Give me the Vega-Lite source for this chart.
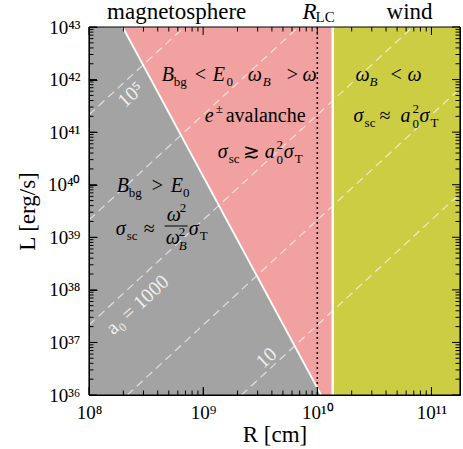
{
  "$schema": "https://vega.github.io/schema/vega-lite/v6.json",
  "width": 371,
  "height": 368,
  "autosize": {"type": "none"},
  "padding": {"left": 89, "top": 27, "right": 3, "bottom": 54},
  "background": "white",
  "config": {"view": {"stroke": "black", "strokeWidth": 1}},
  "datasets": {
    "regions": [
      {"zone": "magnetosphere", "R": 1e8, "R2": 1.365e10},
      {"zone": "wind", "R": 1.365e10, "R2": 1.778e11}
    ],
    "grey": [
      {"R": 1e8, "L": 1e43, "L0": 1e36},
      {"R": 1.97e8, "L": 1e43, "L0": 1e36},
      {"R": 1.08e10, "L": 1e36, "L0": 1e36}
    ],
    "a0lines": [
      {"a0": 10, "R": 2.163e9, "L": 1e36},
      {"a0": 10, "R": 1.778e11, "L": 6.76e39},
      {"a0": 100, "R": 2.163e8, "L": 1e36},
      {"a0": 100, "R": 1.778e11, "L": 6.76e41},
      {"a0": 1000, "R": 1e8, "L": 2.14e37},
      {"a0": 1000, "R": 6.84e10, "L": 1e43},
      {"a0": 10000, "R": 1e8, "L": 2.14e39},
      {"a0": 10000, "R": 6.84e9, "L": 1e43},
      {"a0": 100000, "R": 1e8, "L": 2.14e41},
      {"a0": 100000, "R": 6.84e8, "L": 1e43}
    ],
    "edge": [
      {"R": 1.97e8, "L": 1e43},
      {"R": 1.08e10, "L": 1e36}
    ],
    "rlc": [{"R": 1e10}],
    "sep": [{"R": 1.365e10}],
    "it": [
      {"R": 4.331e8, "L": 9.393e41, "t": "B"},
      {"R": 1.211e9, "L": 9.393e41, "t": "E"},
      {"R": 2.453e9, "L": 9.393e41, "t": "ω"},
      {"R": 7.433e9, "L": 9.393e41, "t": "ω"},
      {"R": 1.031e9, "L": 1.559e41, "t": "e"},
      {"R": 1.340e9, "L": 3.222e40, "t": "σ"},
      {"R": 3.456e9, "L": 3.222e40, "t": "a"},
      {"R": 5.070e9, "L": 3.222e40, "t": "σ"},
      {"R": 2.165e10, "L": 9.393e41, "t": "ω"},
      {"R": 6.177e10, "L": 9.393e41, "t": "ω"},
      {"R": 2.079e10, "L": 1.559e41, "t": "σ"},
      {"R": 5.363e10, "L": 1.559e41, "t": "a"},
      {"R": 7.867e10, "L": 1.559e41, "t": "σ"},
      {"R": 1.748e8, "L": 7.265e39, "t": "B"},
      {"R": 5.192e8, "L": 7.265e39, "t": "E"},
      {"R": 1.713e8, "L": 1.105e39, "t": "σ"},
      {"R": 4.790e8, "L": 2.040e39, "t": "ω"},
      {"R": 4.694e8, "L": 7.450e38, "t": "ω"},
      {"R": 7.464e8, "L": 1.105e39, "t": "σ"}
    ],
    "rm": [
      {"R": 8.426e8, "L": 9.393e41, "t": "<"},
      {"R": 5.385e9, "L": 9.393e41, "t": ">"},
      {"R": 1.574e9, "L": 1.559e41, "t": "avalanche"},
      {"R": 2.218e9, "L": 3.222e40, "t": "≳"},
      {"R": 4.385e10, "L": 9.393e41, "t": "<"},
      {"R": 3.512e10, "L": 1.559e41, "t": "≈"},
      {"R": 3.540e8, "L": 7.265e39, "t": ">"},
      {"R": 3.013e8, "L": 1.105e39, "t": "≈"}
    ],
    "sub": [
      {"R": 5.516e8, "L": 7.547e41, "t": "bg"},
      {"R": 1.598e9, "L": 7.547e41, "t": "0"},
      {"R": 1.287e9, "L": 2.313e41, "t": "±"},
      {"R": 1.672e9, "L": 2.588e40, "t": "sc"},
      {"R": 4.401e9, "L": 4.778e40, "t": "2"},
      {"R": 4.401e9, "L": 2.477e40, "t": "0"},
      {"R": 6.328e9, "L": 2.588e40, "t": "T"},
      {"R": 2.595e10, "L": 1.252e41, "t": "sc"},
      {"R": 6.831e10, "L": 2.313e41, "t": "2"},
      {"R": 6.831e10, "L": 1.199e41, "t": "0"},
      {"R": 9.820e10, "L": 1.252e41, "t": "T"},
      {"R": 2.227e8, "L": 5.837e39, "t": "bg"},
      {"R": 6.650e8, "L": 5.837e39, "t": "0"},
      {"R": 2.139e8, "L": 8.879e38, "t": "sc"},
      {"R": 6.226e8, "L": 3.026e39, "t": "2"},
      {"R": 6.103e8, "L": 1.057e39, "t": "2"},
      {"R": 9.320e8, "L": 8.879e38, "t": "T"}
    ],
    "subit": [
      {"R": 3.319e9, "L": 7.547e41, "t": "B"},
      {"R": 2.871e10, "L": 7.547e41, "t": "B"},
      {"R": 6.103e8, "L": 5.728e38, "t": "B"}
    ],
    "frac": [{"R": 4.600e8, "R2": 7.316e8, "L": 1.639e39}],
    "top": [
      {"R": 5.861e8, "L": 1.419e43, "t": "magnetosphere"},
      {"R": 6.431e10, "L": 1.419e43, "t": "wind"}
    ],
    "topit": [{"R": 7.433e9, "L": 1.419e43, "t": "R"}],
    "topsub": [{"R": 9.663e9, "L": 1.245e43, "t": "LC"}],
    "rot": [
      {"R": 2.33e8, "L": 5.08e41, "t": "10⁵"},
      {"R": 2.67e8, "L": 5.15e37, "t": "a₀ = 1000"},
      {"R": 3.6e9, "L": 5.06e36, "t": "10"}
    ],
    "framex": [{"R": 1e8}, {"R": 1.778e11}],
    "framey": [{"L": 1e36}, {"L": 1e43}],
    "xmaj": [{"R": 1e8}, {"R": 1e9}, {"R": 1e10}, {"R": 1e11}],
    "xmin": [{"R": 2e8}, {"R": 3e8}, {"R": 4e8}, {"R": 5e8}, {"R": 6e8}, {"R": 7e8}, {"R": 8e8}, {"R": 9e8}, {"R": 2e9}, {"R": 3e9}, {"R": 4e9}, {"R": 5e9}, {"R": 6e9}, {"R": 7e9}, {"R": 8e9}, {"R": 9e9}, {"R": 2e10}, {"R": 3e10}, {"R": 4e10}, {"R": 5e10}, {"R": 6e10}, {"R": 7e10}, {"R": 8e10}, {"R": 9e10}],
    "ymaj": [{"L": 1e36}, {"L": 1e37}, {"L": 1e38}, {"L": 1e39}, {"L": 1e40}, {"L": 1e41}, {"L": 1e42}, {"L": 1e43}],
    "ymin": [{"L": 2e36}, {"L": 3e36}, {"L": 4e36}, {"L": 5e36}, {"L": 6e36}, {"L": 7e36}, {"L": 8e36}, {"L": 9e36}, {"L": 2e37}, {"L": 3e37}, {"L": 4e37}, {"L": 5e37}, {"L": 6e37}, {"L": 7e37}, {"L": 8e37}, {"L": 9e37}, {"L": 2e38}, {"L": 3e38}, {"L": 4e38}, {"L": 5e38}, {"L": 6e38}, {"L": 7e38}, {"L": 8e38}, {"L": 9e38}, {"L": 2e39}, {"L": 3e39}, {"L": 4e39}, {"L": 5e39}, {"L": 6e39}, {"L": 7e39}, {"L": 8e39}, {"L": 9e39}, {"L": 2e40}, {"L": 3e40}, {"L": 4e40}, {"L": 5e40}, {"L": 6e40}, {"L": 7e40}, {"L": 8e40}, {"L": 9e40}, {"L": 2e41}, {"L": 3e41}, {"L": 4e41}, {"L": 5e41}, {"L": 6e41}, {"L": 7e41}, {"L": 8e41}, {"L": 9e41}, {"L": 2e42}, {"L": 3e42}, {"L": 4e42}, {"L": 5e42}, {"L": 6e42}, {"L": 7e42}, {"L": 8e42}, {"L": 9e42}]
  },
  "layer": [
    {
      "data": {"name": "regions"},
      "mark": {"type": "rect"},
      "encoding": {
        "x": {"field": "R", "type": "quantitative", "scale": {"type": "log", "domain": [1e8, 1.778e11], "nice": false}, "axis": null},
        "x2": {"field": "R2"},
        "color": {"field": "zone", "type": "nominal", "scale": {"domain": ["magnetosphere", "wind"], "range": ["#f1a19f", "#cdcd43"]}, "legend": null}
      }
    },
    {
      "data": {"name": "grey"},
      "mark": {"type": "area", "color": "#a3a3a3"},
      "encoding": {
        "x": {"field": "R", "type": "quantitative", "scale": {"type": "log", "domain": [1e8, 1.778e11], "nice": false}, "axis": null},
        "y": {"field": "L", "type": "quantitative", "scale": {"type": "log", "domain": [1e36, 1e43], "nice": false}, "axis": null},
        "y2": {"field": "L0"}
      }
    },
    {
      "data": {"name": "a0lines"},
      "mark": {"type": "line", "color": "white", "opacity": 0.65, "strokeWidth": 1.2, "strokeDash": [8, 5]},
      "encoding": {
        "x": {"field": "R", "type": "quantitative", "scale": {"type": "log", "domain": [1e8, 1.778e11], "nice": false}, "axis": null},
        "y": {"field": "L", "type": "quantitative", "scale": {"type": "log", "domain": [1e36, 1e43], "nice": false}, "axis": null},
        "detail": {"field": "a0", "type": "nominal"}
      }
    },
    {
      "data": {"name": "edge"},
      "mark": {"type": "line", "color": "white", "strokeWidth": 1.8},
      "encoding": {
        "x": {"field": "R", "type": "quantitative", "scale": {"type": "log", "domain": [1e8, 1.778e11], "nice": false}, "axis": null},
        "y": {"field": "L", "type": "quantitative", "scale": {"type": "log", "domain": [1e36, 1e43], "nice": false}, "axis": null}
      }
    },
    {
      "data": {"name": "rlc"},
      "mark": {"type": "rule", "color": "black", "strokeWidth": 1.5, "strokeDash": [2, 3]},
      "encoding": {
        "x": {"field": "R", "type": "quantitative", "scale": {"type": "log", "domain": [1e8, 1.778e11], "nice": false}, "axis": null}
      }
    },
    {
      "data": {"name": "sep"},
      "mark": {"type": "rule", "color": "white", "strokeWidth": 2.5},
      "encoding": {
        "x": {"field": "R", "type": "quantitative", "scale": {"type": "log", "domain": [1e8, 1.778e11], "nice": false}, "axis": null}
      }
    },
    {
      "data": {"name": "framex"},
      "mark": {"type": "rule", "color": "black", "strokeWidth": 1.2, "clip": false},
      "encoding": {
        "x": {"field": "R", "type": "quantitative", "scale": {"type": "log", "domain": [1e8, 1.778e11], "nice": false}, "axis": null}
      }
    },
    {
      "data": {"name": "framey"},
      "mark": {"type": "rule", "color": "black", "strokeWidth": 1.2, "clip": false},
      "encoding": {
        "y": {"field": "L", "type": "quantitative", "scale": {"type": "log", "domain": [1e36, 1e43], "nice": false}, "axis": null}
      }
    },
    {
      "data": {"name": "xmaj"},
      "mark": {"type": "tick", "orient": "vertical", "size": 8, "thickness": 1, "yOffset": -4, "color": "black", "opacity": 1},
      "encoding": {
        "x": {"field": "R", "type": "quantitative", "scale": {"type": "log", "domain": [1e8, 1.778e11], "nice": false}, "axis": null},
        "y": {"datum": 1e36, "type": "quantitative", "scale": {"type": "log", "domain": [1e36, 1e43], "nice": false}, "axis": null}
      }
    },
    {
      "data": {"name": "xmin"},
      "mark": {"type": "tick", "orient": "vertical", "size": 4.5, "thickness": 1, "yOffset": -2.25, "color": "black", "opacity": 1},
      "encoding": {
        "x": {"field": "R", "type": "quantitative", "scale": {"type": "log", "domain": [1e8, 1.778e11], "nice": false}, "axis": null},
        "y": {"datum": 1e36, "type": "quantitative", "scale": {"type": "log", "domain": [1e36, 1e43], "nice": false}, "axis": null}
      }
    },
    {
      "data": {"name": "xmaj"},
      "mark": {"type": "tick", "orient": "vertical", "size": 8, "thickness": 1, "yOffset": 4, "color": "black", "opacity": 1},
      "encoding": {
        "x": {"field": "R", "type": "quantitative", "scale": {"type": "log", "domain": [1e8, 1.778e11], "nice": false}, "axis": null},
        "y": {"datum": 1e43, "type": "quantitative", "scale": {"type": "log", "domain": [1e36, 1e43], "nice": false}, "axis": null}
      }
    },
    {
      "data": {"name": "xmin"},
      "mark": {"type": "tick", "orient": "vertical", "size": 4.5, "thickness": 1, "yOffset": 2.25, "color": "black", "opacity": 1},
      "encoding": {
        "x": {"field": "R", "type": "quantitative", "scale": {"type": "log", "domain": [1e8, 1.778e11], "nice": false}, "axis": null},
        "y": {"datum": 1e43, "type": "quantitative", "scale": {"type": "log", "domain": [1e36, 1e43], "nice": false}, "axis": null}
      }
    },
    {
      "data": {"name": "ymaj"},
      "mark": {"type": "tick", "orient": "horizontal", "size": 8, "thickness": 1, "xOffset": 4, "color": "black", "opacity": 1},
      "encoding": {
        "y": {"field": "L", "type": "quantitative", "scale": {"type": "log", "domain": [1e36, 1e43], "nice": false}, "axis": null},
        "x": {"datum": 1e8, "type": "quantitative", "scale": {"type": "log", "domain": [1e8, 1.778e11], "nice": false}, "axis": null}
      }
    },
    {
      "data": {"name": "ymin"},
      "mark": {"type": "tick", "orient": "horizontal", "size": 4.5, "thickness": 1, "xOffset": 2.25, "color": "black", "opacity": 1},
      "encoding": {
        "y": {"field": "L", "type": "quantitative", "scale": {"type": "log", "domain": [1e36, 1e43], "nice": false}, "axis": null},
        "x": {"datum": 1e8, "type": "quantitative", "scale": {"type": "log", "domain": [1e8, 1.778e11], "nice": false}, "axis": null}
      }
    },
    {
      "data": {"name": "ymaj"},
      "mark": {"type": "tick", "orient": "horizontal", "size": 8, "thickness": 1, "xOffset": -4, "color": "black", "opacity": 1},
      "encoding": {
        "y": {"field": "L", "type": "quantitative", "scale": {"type": "log", "domain": [1e36, 1e43], "nice": false}, "axis": null},
        "x": {"datum": 1.778e11, "type": "quantitative", "scale": {"type": "log", "domain": [1e8, 1.778e11], "nice": false}, "axis": null}
      }
    },
    {
      "data": {"name": "ymin"},
      "mark": {"type": "tick", "orient": "horizontal", "size": 4.5, "thickness": 1, "xOffset": -2.25, "color": "black", "opacity": 1},
      "encoding": {
        "y": {"field": "L", "type": "quantitative", "scale": {"type": "log", "domain": [1e36, 1e43], "nice": false}, "axis": null},
        "x": {"datum": 1.778e11, "type": "quantitative", "scale": {"type": "log", "domain": [1e8, 1.778e11], "nice": false}, "axis": null}
      }
    },
    {
      "data": {"name": "it"},
      "mark": {"type": "text", "font": "Liberation Serif", "fontStyle": "italic", "fontSize": 20, "align": "left", "baseline": "alphabetic", "color": "black"},
      "encoding": {
        "x": {"field": "R", "type": "quantitative", "scale": {"type": "log", "domain": [1e8, 1.778e11], "nice": false}, "axis": null},
        "y": {"field": "L", "type": "quantitative", "scale": {"type": "log", "domain": [1e36, 1e43], "nice": false}, "axis": null},
        "text": {"field": "t"}
      }
    },
    {
      "data": {"name": "rm"},
      "mark": {"type": "text", "font": "Liberation Serif", "fontSize": 20, "align": "left", "baseline": "alphabetic", "color": "black"},
      "encoding": {
        "x": {"field": "R", "type": "quantitative", "scale": {"type": "log", "domain": [1e8, 1.778e11], "nice": false}, "axis": null},
        "y": {"field": "L", "type": "quantitative", "scale": {"type": "log", "domain": [1e36, 1e43], "nice": false}, "axis": null},
        "text": {"field": "t"}
      }
    },
    {
      "data": {"name": "sub"},
      "mark": {"type": "text", "font": "Liberation Serif", "fontSize": 13, "align": "left", "baseline": "alphabetic", "color": "black"},
      "encoding": {
        "x": {"field": "R", "type": "quantitative", "scale": {"type": "log", "domain": [1e8, 1.778e11], "nice": false}, "axis": null},
        "y": {"field": "L", "type": "quantitative", "scale": {"type": "log", "domain": [1e36, 1e43], "nice": false}, "axis": null},
        "text": {"field": "t"}
      }
    },
    {
      "data": {"name": "subit"},
      "mark": {"type": "text", "font": "Liberation Serif", "fontStyle": "italic", "fontSize": 13, "align": "left", "baseline": "alphabetic", "color": "black"},
      "encoding": {
        "x": {"field": "R", "type": "quantitative", "scale": {"type": "log", "domain": [1e8, 1.778e11], "nice": false}, "axis": null},
        "y": {"field": "L", "type": "quantitative", "scale": {"type": "log", "domain": [1e36, 1e43], "nice": false}, "axis": null},
        "text": {"field": "t"}
      }
    },
    {
      "data": {"name": "frac"},
      "mark": {"type": "rule", "color": "black", "strokeWidth": 1},
      "encoding": {
        "x": {"field": "R", "type": "quantitative", "scale": {"type": "log", "domain": [1e8, 1.778e11], "nice": false}, "axis": null},
        "x2": {"field": "R2"},
        "y": {"field": "L", "type": "quantitative", "scale": {"type": "log", "domain": [1e36, 1e43], "nice": false}, "axis": null}
      }
    },
    {
      "data": {"name": "top"},
      "mark": {"type": "text", "font": "Liberation Serif", "fontSize": 23, "align": "center", "baseline": "alphabetic", "color": "black"},
      "encoding": {
        "x": {"field": "R", "type": "quantitative", "scale": {"type": "log", "domain": [1e8, 1.778e11], "nice": false}, "axis": null},
        "y": {"field": "L", "type": "quantitative", "scale": {"type": "log", "domain": [1e36, 1e43], "nice": false}, "axis": null},
        "text": {"field": "t"}
      }
    },
    {
      "data": {"name": "topit"},
      "mark": {"type": "text", "font": "Liberation Serif", "fontStyle": "italic", "fontSize": 23, "align": "left", "baseline": "alphabetic", "color": "black"},
      "encoding": {
        "x": {"field": "R", "type": "quantitative", "scale": {"type": "log", "domain": [1e8, 1.778e11], "nice": false}, "axis": null},
        "y": {"field": "L", "type": "quantitative", "scale": {"type": "log", "domain": [1e36, 1e43], "nice": false}, "axis": null},
        "text": {"field": "t"}
      }
    },
    {
      "data": {"name": "topsub"},
      "mark": {"type": "text", "font": "Liberation Serif", "fontSize": 15, "align": "left", "baseline": "alphabetic", "color": "black"},
      "encoding": {
        "x": {"field": "R", "type": "quantitative", "scale": {"type": "log", "domain": [1e8, 1.778e11], "nice": false},
          "axis": {"orient": "bottom", "zindex": 2, "grid": false, "domainColor": "black", "tickColor": "black", "labelColor": "black", "titleColor": "black",
            "values": [1e8, 1e9, 1e10, 1e11], "tickSize": -8,
            "labelPadding": 16, "labelFlush": false, "labelOverlap": false,
            "labelExpr": "datum.value < 3e8 ? '10⁸' : datum.value < 3e9 ? '10⁹' : datum.value < 3e10 ? '10¹⁰' : '10¹¹'",
            "labelFont": "Liberation Serif", "labelFontSize": 19, "title": "R [cm]", "titleFont": "Liberation Serif", "titleFontSize": 23, "titleFontWeight": "normal", "titleBaseline": "alphabetic", "titleY": 46}},
        "y": {"field": "L", "type": "quantitative", "scale": {"type": "log", "domain": [1e36, 1e43], "nice": false},
          "axis": {"orient": "left", "zindex": 2, "grid": false, "domainColor": "black", "tickColor": "black", "labelColor": "black", "titleColor": "black",
            "values": [1e36, 1e37, 1e38, 1e39, 1e40, 1e41, 1e42, 1e43], "tickSize": -8,
            "labelPadding": 17, "labelFlush": false, "labelOverlap": false,
            "labelExpr": "datum.value < 3e36 ? '10³⁶' : datum.value < 3e37 ? '10³⁷' : datum.value < 3e38 ? '10³⁸' : datum.value < 3e39 ? '10³⁹' : datum.value < 3e40 ? '10⁴⁰' : datum.value < 3e41 ? '10⁴¹' : datum.value < 3e42 ? '10⁴²' : '10⁴³'",
            "labelFont": "Liberation Serif", "labelFontSize": 19, "title": "L [erg/s]", "titleFont": "Liberation Serif", "titleFontSize": 23, "titleFontWeight": "normal", "titlePadding": 8}},
        "text": {"field": "t"}
      }
    },
    {
      "data": {"name": "rot"},
      "mark": {"type": "text", "font": "Liberation Serif", "fontSize": 20, "align": "center", "baseline": "middle", "angle": 317.4, "color": "white", "opacity": 0.85},
      "encoding": {
        "x": {"field": "R", "type": "quantitative", "scale": {"type": "log", "domain": [1e8, 1.778e11], "nice": false}, "axis": null},
        "y": {"field": "L", "type": "quantitative", "scale": {"type": "log", "domain": [1e36, 1e43], "nice": false}, "axis": null},
        "text": {"field": "t"}
      }
    }
  ],
  "resolve": {"axis": {"x": "independent", "y": "independent"}}
}
